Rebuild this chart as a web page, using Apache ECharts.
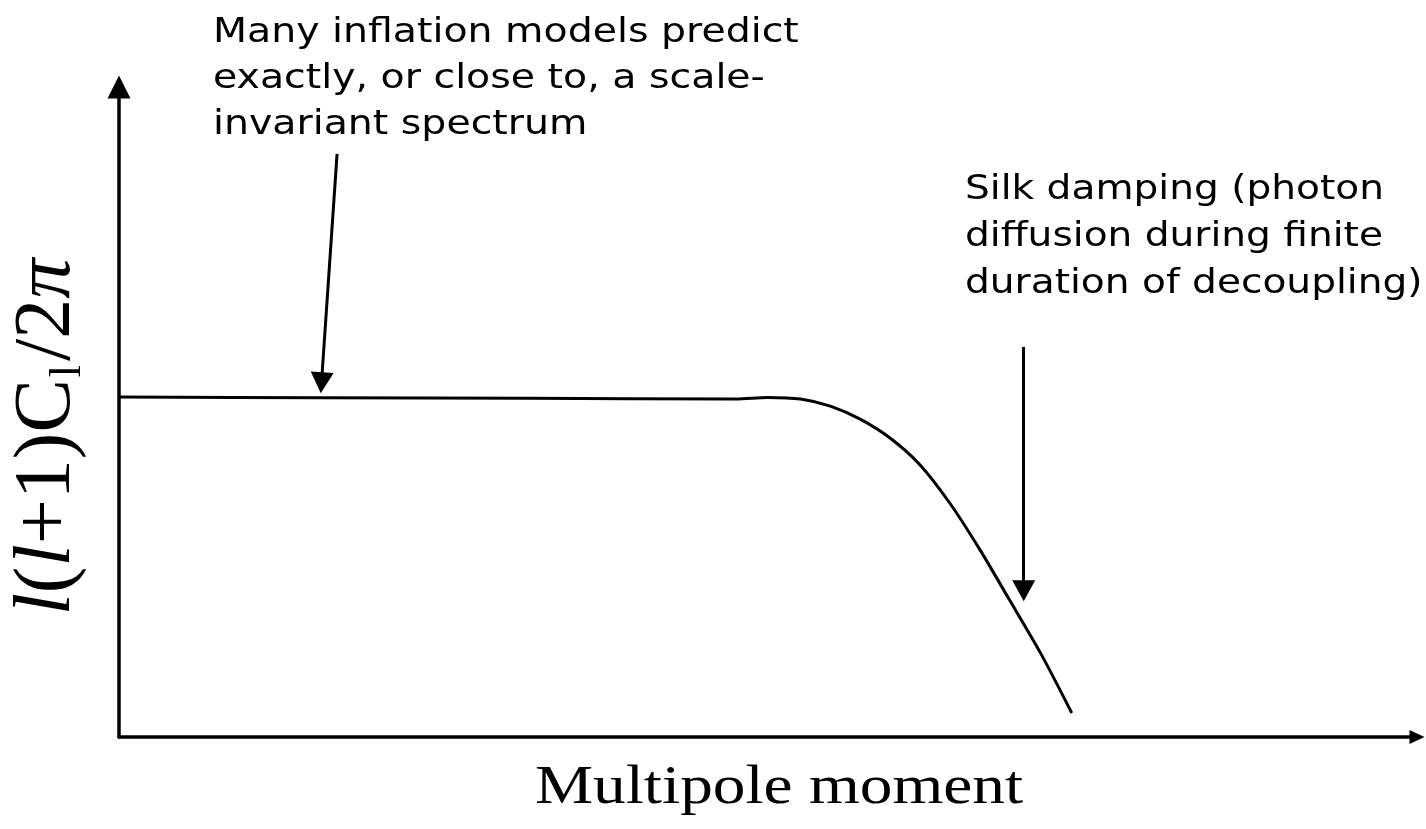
<!DOCTYPE html>
<html>
<head>
<meta charset="utf-8">
<script src="https://cdn.jsdelivr.net/npm/echarts@6/dist/echarts.min.js"></script>
<style>
  html, body { margin: 0; padding: 0; background: #fff; }
  #chart { width: 1426px; height: 829px; }
</style>
</head>
<body>
<div id="chart"></div>
<script>
// Schematic CMB angular power spectrum: flat (scale-invariant) plateau, then Silk damping tail
const multipole = [0, 15.5, 31.5, 47.5, 50.0, 52.5, 54.8, 57.1, 59.4, 61.7, 64.0, 66.3, 68.6, 71.0, 73.4];
const power     = [52.3, 52.2, 52.1, 52.0, 52.25, 52.0, 50.9, 48.9, 46.0, 41.9, 36.0, 28.9, 21.1, 12.9, 3.7];

// Annotation pointers: [from, to] in data coordinates
const plateauPointer = [[16.8, 89.7], [15.6, 54.5]];
const dampingPointer = [[69.7, 60.0], [69.7, 22.5]];

const plateauNote = 'Many inflation models predict\nexactly, or close to, a scale-\ninvariant spectrum';
const dampingNote = 'Silk damping (photon\ndiffusion during finite\nduration of decoupling)';
const xTitle = 'Multipole moment';

const chart = echarts.init(document.getElementById('chart'));

const axisCommon = {
  type: 'value',
  min: 0,
  max: 100,
  axisTick: { show: false },
  axisLabel: { show: false },
  splitLine: { show: false }
};

chart.setOption({
  animation: false,
  backgroundColor: '#fff',
  grid: { left: 119, right: 9, top: 87, bottom: 92 },
  xAxis: Object.assign({}, axisCommon, {
    axisLine: {
      show: true,
      symbol: ['none', 'triangle'],
      symbolSize: [14, 15],
      lineStyle: { color: '#000', width: 3.5 }
    }
  }),
  yAxis: Object.assign({}, axisCommon, {
    axisLine: {
      show: true,
      symbol: ['none', 'triangle'],
      symbolSize: [23, 23],
      lineStyle: { color: '#000', width: 3.5 }
    }
  }),
  series: [{
    type: 'line',
    data: multipole.map((x, i) => [x, power[i]]),
    symbol: 'none',
    smooth: 0.3,
    lineStyle: { color: '#000', width: 3 },
    silent: true,
    markLine: {
      silent: true,
      symbol: ['none', 'triangle'],
      symbolSize: [23, 21],
      label: { show: false },
      lineStyle: { color: '#000', width: 3, type: 'solid' },
      data: [
        [{ coord: plateauPointer[0] }, { coord: plateauPointer[1] }],
        [{ coord: dampingPointer[0] }, { coord: dampingPointer[1] }]
      ]
    }
  }],
  graphic: [
    {
      type: 'text', x: 213, y: 10, scaleX: 1.16,
      style: {
        text: plateauNote, fill: '#000',
        font: '34px "DejaVu Sans"', lineHeight: 46,
        align: 'left', verticalAlign: 'top'
      }
    },
    {
      type: 'text', x: 965, y: 167, scaleX: 1.15,
      style: {
        text: dampingNote, fill: '#000',
        font: '34px "DejaVu Sans"', lineHeight: 47,
        align: 'left', verticalAlign: 'top'
      }
    },
    {
      type: 'text', x: 779, y: 789, scaleX: 1.21,
      style: {
        text: xTitle, fill: '#000',
        font: '54px "Liberation Serif"',
        align: 'center', verticalAlign: 'middle'
      }
    },
    {
      type: 'text', x: 48, y: 437, rotation: Math.PI / 2,
      style: {
        text: '{it|l}({it|l}+1)C{sub|l}/2{it|π}',
        fill: '#000',
        font: '80px "Liberation Serif"',
        align: 'center', verticalAlign: 'middle',
        rich: {
          it: { font: 'italic 80px "Liberation Serif"', fill: '#000' },
          sub: { font: '44px "Liberation Serif"', fill: '#000', verticalAlign: 'bottom', padding: [40, 4, 0, 2] }
        }
      }
    }
  ]
});
</script>
</body>
</html>
